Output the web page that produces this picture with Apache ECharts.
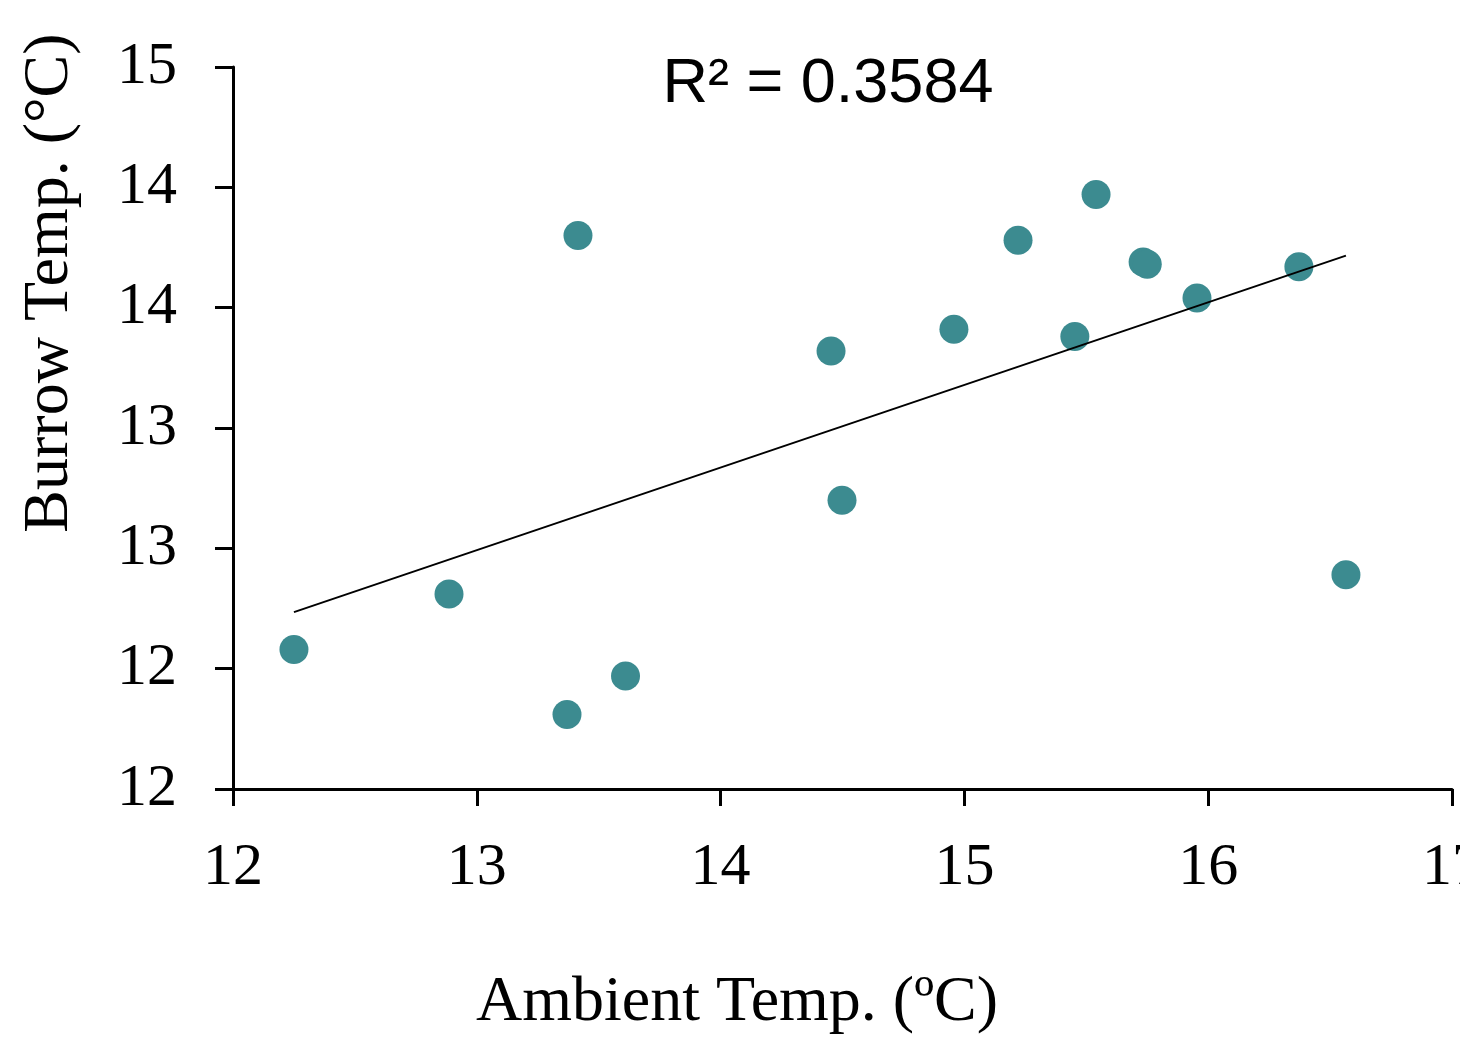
<!DOCTYPE html>
<html>
<head>
<meta charset="utf-8">
<script src="https://cdn.jsdelivr.net/npm/echarts@6/dist/echarts.min.js"></script>
<style>
html,body{margin:0;padding:0;background:#fff;}
#chart{width:1460px;height:1041px;}
</style>
</head>
<body>
<div id="chart"></div>
<script>
// Data
const ambientTemp = [12.25, 12.886, 13.37, 13.61, 13.415, 14.453, 14.498, 14.957, 15.22, 15.54, 15.453, 15.733, 15.75, 15.954, 16.372, 16.565];
const burrowTemp  = [12.08, 12.31, 11.81, 11.97, 13.80, 13.32, 12.70, 13.41, 13.78, 13.97, 13.38, 13.69, 13.68, 13.54, 13.67, 12.39];
const xTickLabels = ['12', '13', '14', '15', '16', '17'];
const yTickLabels = ['12', '12', '13', '13', '14', '14', '15'];
const rSquaredText = 'R² = 0.3584';
const xTitle = 'Ambient Temp. (ºC)';
const yTitle = 'Burrow Temp. (°C)';

const X_MIN = 12, X_MAX = 17, X_INT = 1;
const Y_MIN = 11.5, Y_MAX = 14.5, Y_INT = 0.5;

// Linear least-squares trendline (as the spreadsheet draws it)
const n = ambientTemp.length;
const mx = ambientTemp.reduce((a, b) => a + b, 0) / n;
const my = burrowTemp.reduce((a, b) => a + b, 0) / n;
let sxy = 0, sxx = 0;
for (let i = 0; i < n; i++) {
  sxy += (ambientTemp[i] - mx) * (burrowTemp[i] - my);
  sxx += (ambientTemp[i] - mx) ** 2;
}
const slope = sxy / sxx, intercept = my - slope * mx;
const xLo = Math.min(...ambientTemp), xHi = Math.max(...ambientTemp);
const trend = [[xLo, intercept + slope * xLo], [xHi, intercept + slope * xHi]];

const points = ambientTemp.map((x, i) => [x, burrowTemp[i]]);

const chart = echarts.init(document.getElementById('chart'), null, {renderer: 'canvas'});
const serif = '"Liberation Serif", "Times New Roman", serif';
const sans = '"Liberation Sans", Arial, sans-serif';

chart.setOption({
  backgroundColor: '#ffffff',
  animation: false,
  grid: {left: 233, top: 67, right: 8, bottom: 252, containLabel: false, outerBoundsMode: 'none'},
  xAxis: {
    type: 'value', min: X_MIN, max: X_MAX, interval: X_INT,
    splitLine: {show: false},
    axisLine: {show: true, onZero: false, lineStyle: {color: '#000', width: 3}},
    axisTick: {show: true, inside: false, length: 17, lineStyle: {color: '#000', width: 3}},
    axisLabel: {
      color: '#000', fontFamily: serif, fontSize: 60, margin: 49,
      showMaxLabel: true, showMinLabel: true, hideOverlap: false,
      formatter: v => xTickLabels[Math.round((v - X_MIN) / X_INT)]
    }
  },
  yAxis: {
    type: 'value', min: Y_MIN, max: Y_MAX, interval: Y_INT,
    splitLine: {show: false},
    axisLine: {show: true, onZero: false, lineStyle: {color: '#000', width: 3}},
    axisTick: {show: true, inside: false, length: 18, lineStyle: {color: '#000', width: 3}},
    axisLabel: {
      color: '#000', fontFamily: serif, fontSize: 60, margin: 56,
      showMaxLabel: true, showMinLabel: true, hideOverlap: false,
      formatter: v => yTickLabels[Math.round((v - Y_MIN) / Y_INT)]
    }
  },
  graphic: [
    {type: 'text', z: 100, position: [828, 85],
     style: {text: rSquaredText, fill: '#000', font: '63px ' + sans, textAlign: 'center', textVerticalAlign: 'middle'}},
    {type: 'text', z: 100, position: [737, 1003],
     style: {text: xTitle, fill: '#000', font: '64px ' + serif, textAlign: 'center', textVerticalAlign: 'middle'}},
    {type: 'text', z: 100, position: [50, 283], rotation: Math.PI / 2,
     style: {text: yTitle, fill: '#000', font: '64px ' + serif, textAlign: 'center', textVerticalAlign: 'middle'}}
  ],
  series: [
    {
      type: 'scatter', name: 'Burrow Temp.', data: points,
      symbol: 'circle', symbolSize: 29, z: 2,
      itemStyle: {color: '#3c8b90', opacity: 1}
    },
    {
      type: 'line', name: 'Linear trend', data: trend,
      showSymbol: false, symbol: 'none', z: 3, silent: true,
      lineStyle: {color: '#000', width: 2}
    }
  ]
});
</script>
</body>
</html>
